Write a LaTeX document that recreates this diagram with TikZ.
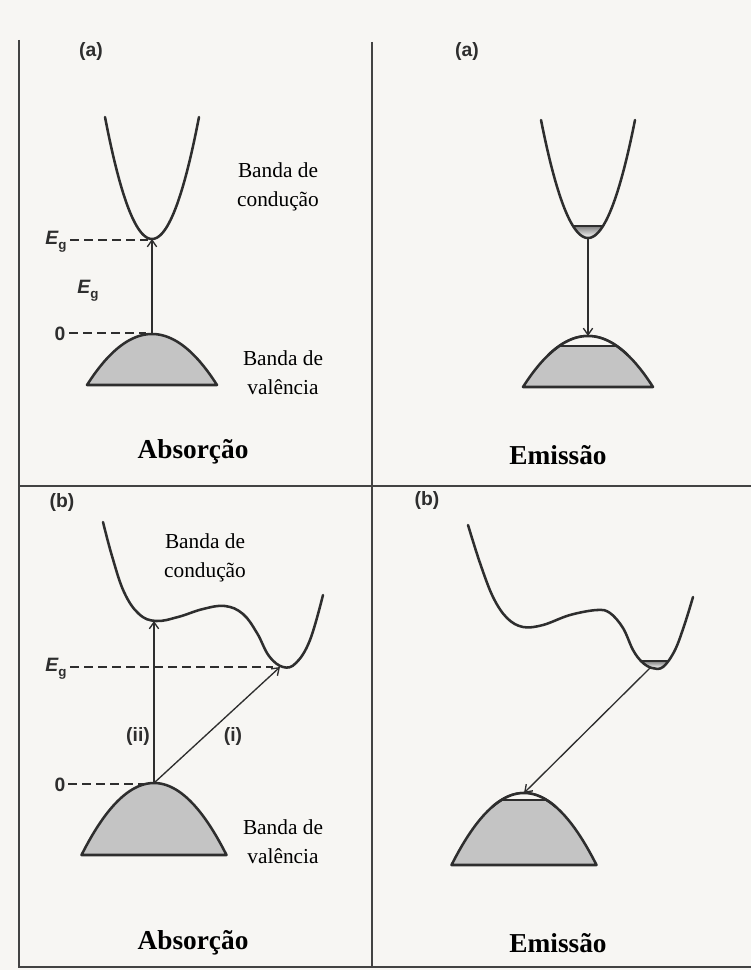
\documentclass[tikz,border=0pt]{standalone}
\usepackage{fontspec}
\setmainfont{Liberation Serif}
\newfontfamily\labfont{Liberation Sans}
\usetikzlibrary{arrows.meta}
\definecolor{bg}{HTML}{F7F6F3}
\definecolor{ink}{HTML}{2E2E2E}
\definecolor{shade}{HTML}{C4C4C4}
\newcommand{\Eglab}{{\itshape E}\raisebox{-0.45ex}{\fontsize{10}{10}\selectfont g}}
\tikzset{
  band/.style={draw=ink, line width=1.9pt, line join=round, line cap=round},
  frame/.style={draw=ink!90, line width=1.6pt},
  trans/.style={draw=ink, line width=1.0pt, -{Straight Barb[length=5pt,width=7pt]}},
  level/.style={draw=ink, line width=1.3pt, dash pattern=on 6.5pt off 4pt},
  edge/.style={draw=ink, line width=1.2pt},
  lab/.style={font=\labfont\bfseries\fontsize{14.5}{16}\selectfont, text=ink, inner sep=0pt},
  bandlab/.style={font=\fontsize{16}{22}\selectfont, align=center, inner sep=0pt},
  title/.style={font=\bfseries\fontsize{20.5}{24}\selectfont, inner sep=0pt},
}
\begin{document}
\begin{tikzpicture}[x=0.75pt,y=-0.75pt]
\useasboundingbox (0,0) rectangle (751,970);
\fill[bg] (0,0) rectangle (751,970);

% frame
\draw[frame] (19,40) -- (19,967) -- (751,967);
\draw[frame] (372,42) -- (372,967);
\draw[frame] (19,486) -- (751,486);

% ================= (a) Absorcao =================
\node[lab] (aAlab) at (91,52) {(a)};
\coordinate (aCmin) at (152,239);
\coordinate (aVtop) at (152,334);
\draw[band] plot[domain=-47:47,samples=61] ({152+\x},{239-122*(\x/47)^2});
\filldraw[band, fill=shade] plot[domain=-65:65,samples=61] ({152+\x},{334+51*(\x/65)^2}) -- cycle;
\node[lab] (aEg1) at (56,242) {\Eglab};
\node[lab] (aEg2) at (88,291) {\Eglab};
\node[lab] (aZero) at (60,334) {0};
\coordinate (aEgS) at (70,240);
\coordinate (aEgE) at (148,240);
\coordinate (aZS) at (69,333);
\coordinate (aZE) at (146,333);
\draw[level] (aEgS) -- (aEgE);
\draw[level] (aZS) -- (aZE);
\draw[trans] (aVtop) -- (aCmin);
\node[bandlab] (aCB) at (278,187) {Banda de\\condução};
\node[bandlab] (aVB) at (283,373) {Banda de\\valência};
\node[title] (aTitle) at (193,452) {Absorção};

% ================= (a) Emissao =================
\node[lab] (eAlab) at (467,52) {(a)};
\coordinate (eCmin) at (588,238);
\coordinate (eVtop) at (588,336);
\fill[shade] plot[domain=-15:15,samples=31] ({588+\x},{238-118*(\x/47)^2}) -- cycle;
\draw[edge] (573,226) -- (603,226);
\draw[band] plot[domain=-47:47,samples=61] ({588+\x},{238-118*(\x/47)^2});
\filldraw[band, fill=shade] plot[domain=-65:65,samples=61] ({588+\x},{336+51*(\x/65)^2}) -- cycle;
\fill[bg] plot[domain=-28.8:28.8,samples=31] ({588+\x},{336+51*(\x/65)^2}) -- cycle;
\draw[edge] (559.2,346) -- (616.8,346);
\draw[band] plot[domain=-40:40,samples=41] ({588+\x},{336+51*(\x/65)^2});
\draw[trans] (eCmin) -- (eVtop);
\node[title] (eTitle) at (558,455) {Emissão};

% ================= (b) Absorcao =================
\node[lab] (bBlab) at (62,502) {(b)};
\coordinate (bCloc) at (154,621);
\coordinate (bCglob) at (280,667);
\coordinate (bVtop) at (154,783);
\draw[band] plot[smooth, tension=0.65] coordinates {(103,522) (112,556) (124,592) (139,614) (156,621) (178,617) (203,609) (225,606) (243,614) (257,633) (269,656) (283,667) (296,663) (310,640) (323,595)};
\filldraw[band, fill=shade] plot[domain=-72.5:72.5,samples=61] ({154+\x},{783+72*(\x/72.5)^2}) -- cycle;
\node[lab] (bEg) at (56,669) {\Eglab};
\node[lab] (bZero) at (60,785) {0};
\coordinate (bEgS) at (70,667);
\coordinate (bEgE) at (273,667);
\coordinate (bZS) at (68,784);
\coordinate (bZE) at (146,784);
\draw[level] (bEgS) -- (bEgE);
\draw[level] (bZS) -- (bZE);
\draw[trans] (bVtop) -- (bCloc);
\draw[trans] (bVtop) -- (bCglob);
\node[lab] (bii) at (138,736) {(ii)};
\node[lab] (bi) at (233,736) {(i)};
\node[bandlab] (bCB) at (205,558) {Banda de\\condução};
\node[bandlab] (bVB) at (283,842) {Banda de\\valência};
\node[title] (bTitle) at (193,943) {Absorção};

% ================= (b) Emissao =================
\node[lab] (fBlab) at (427,500) {(b)};
\coordinate (fCglob) at (650,668);
\coordinate (fVtop) at (524,793);
\fill[shade] plot[smooth] coordinates {(641,661) (646,665.5) (652,668) (658,668) (664,665.5) (668,661)} -- cycle;
\draw[edge] (641,661) -- (668,661);
\draw[band] plot[smooth, tension=0.6] coordinates {(468,525) (480,563) (493,597) (507,618) (523,627) (543,625) (570,615) (597,610) (610,613) (623,628) (633,650) (642,662) (652,668) (663,667) (675,650) (685,623) (693,597)};
\filldraw[band, fill=shade] plot[domain=-72.5:72.5,samples=61] ({524+\x},{793+72*(\x/72.5)^2}) -- cycle;
\fill[bg] plot[domain=-22.6:22.6,samples=31] ({524+\x},{793+72*(\x/72.5)^2}) -- cycle;
\draw[edge] (501.4,800) -- (546.6,800);
\draw[band] plot[domain=-32:32,samples=41] ({524+\x},{793+72*(\x/72.5)^2});
\draw[trans] (fCglob) -- (fVtop);
\node[title] (fTitle) at (558,943) {Emissão};
\end{tikzpicture}
\end{document}
